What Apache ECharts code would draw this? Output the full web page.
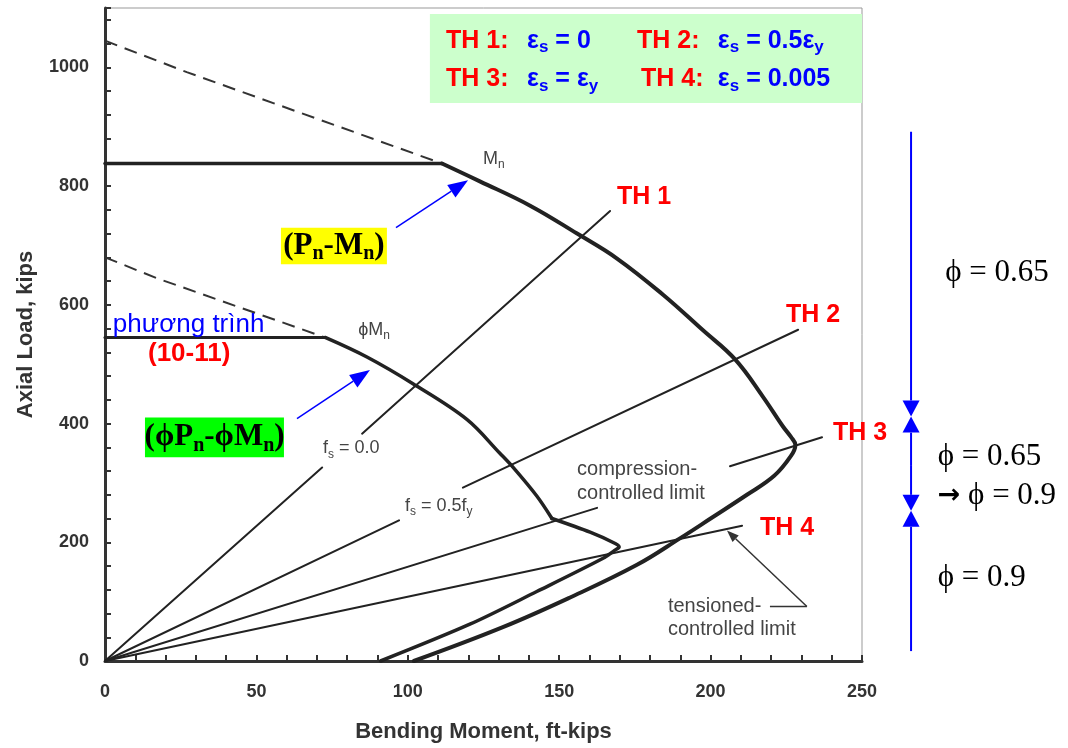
<!DOCTYPE html>
<html>
<head>
<meta charset="utf-8">
<script src="https://cdn.jsdelivr.net/npm/echarts@6/dist/echarts.min.js"></script>
<style>
  html, body { margin: 0; padding: 0; background: #fff; }
  #chart { width: 1068px; height: 748px; }
</style>
</head>
<body>
<div id="chart"></div>
<script>
// ---- axis tick labels ----
const xTickLabels = [0, 50, 100, 150, 200, 250];
const yTickLabels = [0, 200, 400, 600, 800, 1000];

// ---- nominal interaction diagram (M ft-kips, P kips) ----
const nominalCap = [[0, 838], [111.3, 838]];
const nominalDashed = [[0, 1045], [27, 992], [111.3, 838]];
const nominalCurve = [
  [111.3, 838], [123.8, 808], [140.4, 767], [155.9, 720], [169.1, 678],
  [184.3, 617], [197.5, 557], [208.1, 508], [217.3, 445], [223.9, 395],
  [226.6, 377], [228.0, 364], [226.6, 346], [221.0, 312], [212.0, 280],
  [200.0, 240], [190.0, 207], [175.7, 162], [153.6, 107], [131.4, 57], [102, 0]
];

// ---- design (phi-reduced) interaction diagram ----
const designCap = [[0, 545], [72.7, 545]];
const designDashed = [[0, 680], [17, 645], [72.7, 545]];
const designUpper = [
  [72.7, 545], [86.5, 512], [101.7, 467], [119.5, 407], [130.4, 350],
  [135.0, 325], [142.6, 278], [147.6, 240]
];
const designLower = [
  [147.6, 240], [160.2, 217], [168.5, 198], [169.8, 192], [168.2, 186],
  [164.5, 173], [142.6, 117], [120.5, 62], [91, 0]
];

// ---- strain-limit rays from the origin, broken where their labels sit ----
const rayTH1 = [[[0, 0], [71.7, 326]], [[84.9, 383], [166.8, 758]]];
const rayTH2 = [[[0, 0], [97.1, 237]], [[118.2, 292], [228.9, 558]]];
const rayTH3 = [[[0, 0], [162.5, 258]], [[206.4, 328], [236.8, 377]]];
const rayTH4 = [[[0, 0], [210.4, 228]]];

const SANS = '"Liberation Sans", Arial, sans-serif';
const SERIF = '"Liberation Serif", "Times New Roman", serif';
const INK = '#222';
const PHI = 'ϕ';

const chart = echarts.init(document.getElementById('chart'), null, { renderer: 'canvas' });

const series = [];
function addLine(data, width, extra) {
  series.push(Object.assign({
    type: 'line', data: data, symbol: 'none', silent: true, animation: false,
    clip: false, z: 3,
    lineStyle: Object.assign({ color: INK, width: width, cap: 'round', join: 'round' }, (extra && extra.lineStyle) || {})
  }, extra ? { smooth: extra.smooth || false } : {}));
}
addLine(nominalDashed, 2, { lineStyle: { type: [13, 8], color: '#333', cap: 'butt' } });
addLine(designDashed, 2, { lineStyle: { type: [13, 8], color: '#333', cap: 'butt' } });
addLine(nominalCap, 3.5);
addLine(designCap, 3);
addLine(nominalCurve, 4, { smooth: 0.4 });
addLine(designUpper, 3.5, { smooth: 0.35 });
addLine(designLower, 3.5, { smooth: 0.3 });
[rayTH1, rayTH2, rayTH3, rayTH4].forEach(r => r.forEach(seg => addLine(seg, 2)));

const axisCommon = {
  type: 'value',
  axisLine: { show: true, lineStyle: { color: '#333', width: 3 } },
  axisTick: { show: true, inside: true, length: 6, lineStyle: { color: '#333', width: 2 } },
  splitLine: { show: false },
  nameLocation: 'middle',
  nameTextStyle: { fontFamily: SANS, fontWeight: 'bold', fontSize: 22, color: '#333' }
};

chart.setOption({
  animation: false,
  grid: { left: 105, top: 8, width: 757, height: 659, show: true, borderColor: '#999', borderWidth: 1 },
  xAxis: Object.assign({}, axisCommon, {
    min: 0, max: 250, interval: 10,
    name: 'Bending Moment, ft-kips', nameGap: 60,
    axisLabel: {
      margin: 22, color: '#333', fontFamily: SANS, fontWeight: 'bold', fontSize: 18,
      formatter: v => xTickLabels.includes(v) ? String(v) : ''
    }
  }),
  yAxis: Object.assign({}, axisCommon, {
    min: 0, max: 1100, interval: 40,
    name: 'Axial Load, kips', nameGap: 68,
    axisLabel: {
      margin: 16, color: '#333', fontFamily: SANS, fontWeight: 'bold', fontSize: 18,
      formatter: v => yTickLabels.includes(v) ? String(v) : ''
    }
  }),
  series: series
});

// ---- annotations, anchored in data units ----
const P = (m, p) => chart.convertToPixel({ gridIndex: 0 }, [m, p]);

function text(m, p, str, style) {
  const [x, y] = P(m, p);
  return {
    type: 'text', z: 20, silent: true,
    style: Object.assign({ x: x, y: y, text: str, align: 'left', verticalAlign: 'middle',
      textAlign: 'left', textVerticalAlign: 'middle' }, style)
  };
}
function rect(m0, p0, m1, p1, fill) {
  const a = P(m0, p0), b = P(m1, p1);
  return { type: 'rect', z: 10, silent: true,
    shape: { x: a[0], y: a[1], width: b[0] - a[0], height: b[1] - a[1] }, style: { fill: fill } };
}
function arrow(a, b, color, width, headLen, headW) {
  const p0 = P(a[0], a[1]), p1 = P(b[0], b[1]);
  const dx = p1[0] - p0[0], dy = p1[1] - p0[1], L = Math.hypot(dx, dy);
  const ux = dx / L, uy = dy / L;
  const bx = p1[0] - ux * headLen, by = p1[1] - uy * headLen;
  return [
    { type: 'line', z: 15, silent: true, shape: { x1: p0[0], y1: p0[1], x2: bx, y2: by },
      style: { stroke: color, lineWidth: width } },
    { type: 'polygon', z: 15, silent: true,
      shape: { points: [[p1[0], p1[1]], [bx - uy * headW / 2, by + ux * headW / 2], [bx + uy * headW / 2, by - ux * headW / 2]] },
      style: { fill: color } }
  ];
}
function polyline(pts, color, width) {
  return { type: 'polyline', z: 15, silent: true, shape: { points: pts.map(q => P(q[0], q[1])) },
    style: { stroke: color, lineWidth: width, fill: null } };
}

const RED = '#ff0000', BLUE = '#0000ff';
const boxRich = {
  r: { fill: RED, fontFamily: SANS, fontWeight: 'bold', fontSize: 25 },
  b: { fill: BLUE, fontFamily: SANS, fontWeight: 'bold', fontSize: 25 },
  bs: { fill: BLUE, fontFamily: SANS, fontWeight: 'bold', fontSize: 17, padding: [14, 0, 0, 0] }
};
const smallRich = {
  t: { fill: '#444', fontFamily: SANS, fontSize: 18 },
  s: { fill: '#444', fontFamily: SANS, fontSize: 12, padding: [12, 0, 0, 0] }
};
const serifRich = {
  t: { fill: '#000', fontFamily: SERIF, fontWeight: 'bold', fontSize: 31 },
  s: { fill: '#000', fontFamily: SERIF, fontWeight: 'bold', fontSize: 20, padding: [16, 0, 0, 0] }
};
const phiRich = {
  t: { fill: '#000', fontFamily: SERIF, fontSize: 31 },
  a: { fill: '#000', fontFamily: '"DejaVu Sans", sans-serif', fontWeight: 'bold', fontSize: 27 }
};

const g = [];
// strain-case legend box
g.push(rect(107.3, 1090, 250, 940, '#ccffcc'));
g.push(text(112.6, 1045, '{r|TH 1:}', { rich: boxRich }));
g.push(text(139.4, 1045, '{b|ε}{bs|s}{b| = 0}', { rich: boxRich }));
g.push(text(175.7, 1045, '{r|TH 2:}', { rich: boxRich }));
g.push(text(202.4, 1045, '{b|ε}{bs|s}{b| = 0.5ε}{bs|y}', { rich: boxRich }));
g.push(text(112.6, 980, '{r|TH 3:}', { rich: boxRich }));
g.push(text(139.4, 980, '{b|ε}{bs|s}{b| = ε}{bs|y}', { rich: boxRich }));
g.push(text(177.0, 980, '{r|TH 4:}', { rich: boxRich }));
g.push(text(202.4, 980, '{b|ε}{bs|s}{b| = 0.005}', { rich: boxRich }));

// ray labels
const thStyle = { fill: RED, fontFamily: SANS, fontWeight: 'bold', fontSize: 25 };
g.push(text(169.1, 781.7, 'TH 1', thStyle));
g.push(text(224.9, 583.3, 'TH 2', thStyle));
g.push(text(240.4, 383.3, 'TH 3', thStyle));
g.push(text(216.3, 223.3, 'TH 4', thStyle));

// curve labels
const mRich = {
  t: { fill: '#444', fontFamily: SANS, fontSize: 18 },
  s: { fill: '#444', fontFamily: SANS, fontSize: 12, padding: [11, 0, 0, 0] }
};
g.push(text(124.8, 845, '{t|M}{s|n}', { rich: mRich }));
g.push(text(83.6, 556.7, '{t|' + PHI + 'M}{s|n}', { rich: mRich }));
g.push(text(72, 358.3, '{t|f}{s|s}{t| = 0.0}', { rich: smallRich }));
g.push(text(99.1, 261.7, '{t|f}{s|s}{t| = 0.5f}{s|y}', { rich: smallRich }));
const noteStyle = { fill: '#444', fontFamily: SANS, fontSize: 20 };
g.push(text(155.9, 323.3, 'compression-', noteStyle));
g.push(text(155.9, 281.7, 'controlled limit', noteStyle));
g.push(text(185.9, 91.7, 'tensioned-', noteStyle));
g.push(text(185.9, 53.3, 'controlled limit', noteStyle));
g.push(polyline([[219.6, 91.7], [231.8, 91.7]], '#333', 1.5));
arrow([231.8, 91.7], [205.4, 220], '#333', 1.5, 12, 9).forEach(e => g.push(e));

// equation reference
g.push(text(2.6, 566.7, 'phương trình', { fill: BLUE, fontFamily: SANS, fontSize: 26 }));
g.push(text(14.2, 516.7, '(10-11)', { fill: RED, fontFamily: SANS, fontWeight: 'bold', fontSize: 26 }));

// highlighted curve names with pointers
g.push(rect(58.1, 730, 93.1, 668.3, '#ffff00'));
g.push(text(75.6, 699, '{t|(P}{s|n}{t|-M}{s|n}{t|)}', { rich: serifRich, align: 'center', textAlign: 'center' }));
g.push(rect(13.2, 410, 59.1, 343.3, '#00ff00'));
g.push(text(36.2, 376.6, '{t|(' + PHI + 'P}{s|n}{t|-' + PHI + 'M}{s|n}{t|)}', { rich: serifRich, align: 'center', textAlign: 'center' }));
arrow([96.1, 730], [119.9, 810], BLUE, 1.5, 20, 15).forEach(e => g.push(e));
arrow([63.4, 408.3], [87.5, 490], BLUE, 1.5, 20, 15).forEach(e => g.push(e));

// strength-reduction factor zones
const rulerM = 266.2;
arrow([rulerM, 891.7], [rulerM, 411.7], BLUE, 2, 16, 17).forEach(e => g.push(e));
arrow([rulerM, 330], [rulerM, 411.7], BLUE, 2, 16, 17).forEach(e => g.push(e));
arrow([rulerM, 330], [rulerM, 253], BLUE, 2, 16, 17).forEach(e => g.push(e));
arrow([rulerM, 16.7], [rulerM, 253], BLUE, 2, 16, 17).forEach(e => g.push(e));
g.push(text(277.5, 653.3, '{t|' + PHI + ' = 0.65}', { rich: phiRich }));
g.push(text(275.0, 343.3, '{t|' + PHI + ' = 0.65}', { rich: phiRich }));
g.push(text(275.0, 278.3, '{a|→}{t| ' + PHI + ' = 0.9}', { rich: phiRich }));
g.push(text(275.0, 140, '{t|' + PHI + ' = 0.9}', { rich: phiRich }));

chart.setOption({ graphic: { elements: g } });
</script>
</body>
</html>
